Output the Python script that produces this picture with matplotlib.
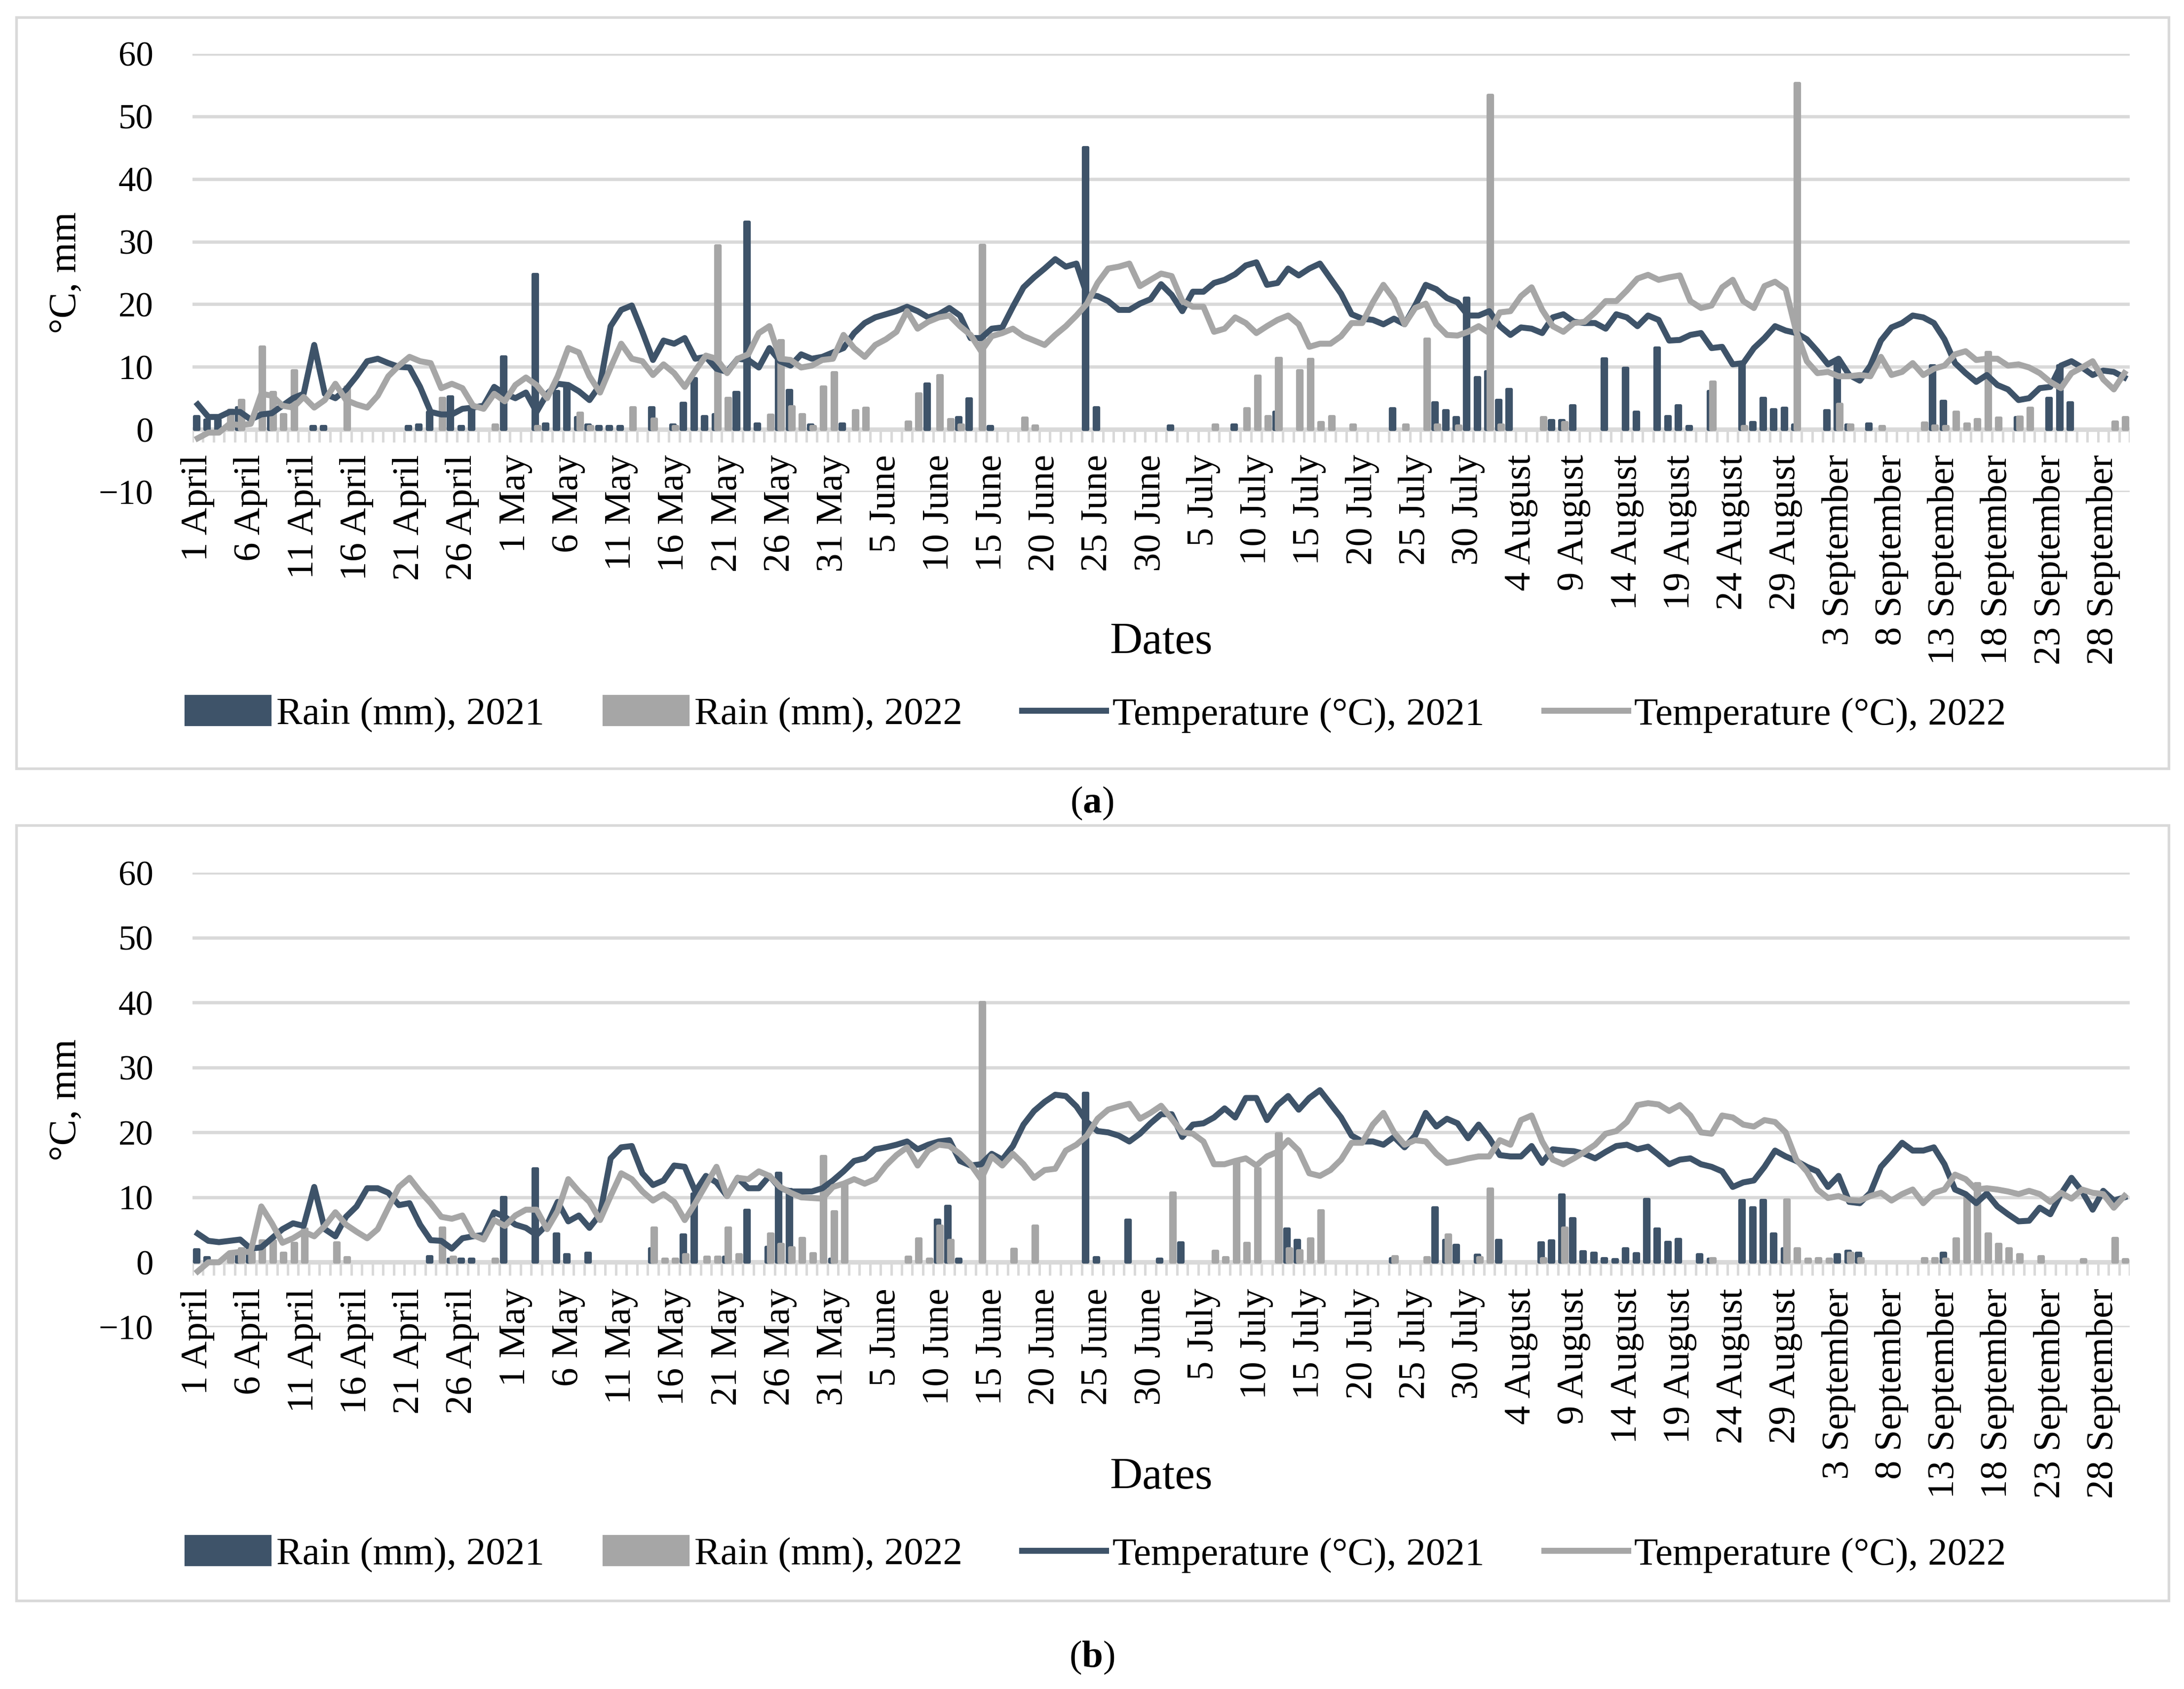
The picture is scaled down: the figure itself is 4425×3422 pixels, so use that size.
import numpy as np
import matplotlib
matplotlib.use("Agg")
import matplotlib.pyplot as plt
from matplotlib.patches import Rectangle

plt.rcParams['font.family'] = ['Liberation Serif', 'DejaVu Serif']
plt.rcParams['mathtext.fontset'] = 'custom'
plt.rcParams['mathtext.rm'] = 'Liberation Serif'
plt.rcParams['mathtext.bf'] = 'Liberation Serif:bold'

DARK = '#3E5369'
GRAY = '#A6A6A6'
GRID = '#D9D9D9'

# 1 April .. 30 September, one value per day
days = np.arange(183)

tick_labels = ["1 April", "6 April", "11 April", "16 April", "21 April", "26 April",
               "1 May", "6 May", "11 May", "16 May", "21 May", "26 May", "31 May",
               "5 June", "10 June", "15 June", "20 June", "25 June", "30 June",
               "5 July", "10 July", "15 July", "20 July", "25 July", "30 July",
               "4 August", "9 August", "14 August", "19 August", "24 August", "29 August",
               "3 September", "8 September", "13 September", "18 September",
               "23 September", "28 September"]

# ---- panel (a) ----
rain21_a = [2.1, 1.5, 1.5, 0, 3.5, 0, 0, 2.6, 0, 0,
            0, 0.5, 0.5, 0, 0, 0, 0, 0, 0, 0,
            0.5, 0.7, 2.8, 0, 5.2, 0.5, 3.5, 0, 0, 11.6,
            0, 0, 24.8, 0.9, 6.1, 7.1, 1.9, 0.7, 0.5, 0.5,
            0.5, 0, 0, 3.5, 0, 0.7, 4.2, 8.1, 2.1, 2.4,
            0, 5.9, 33.1, 0.9, 0, 11.3, 6.2, 0, 0.7, 0,
            0, 0.9, 0, 0, 0, 0, 0, 0, 0, 7.3,
            0, 0, 1.9, 4.9, 0, 0.5, 0, 0, 0, 0,
            0, 0, 0, 0, 45.0, 3.5, 0, 0, 0, 0,
            0, 0, 0.6, 0, 0, 0, 0, 0, 0.7, 0,
            0, 0, 2.8, 0, 0, 0, 0, 0, 0, 0,
            0, 0, 0, 3.3, 0, 0, 0, 4.3, 3.0, 1.9,
            21.0, 8.3, 9.2, 4.7, 6.4, 0, 0, 0, 1.4, 1.4,
            3.8, 0, 0, 11.3, 0, 9.8, 2.8, 0, 13.0, 2.1,
            3.8, 0.5, 0, 6.1, 0, 0, 10.6, 1.1, 5.0, 3.2,
            3.4, 0.7, 0, 0, 3.0, 10.4, 0.7, 0, 0.9, 0,
            0, 0, 0, 0, 10.2, 4.5, 0, 0, 0, 0,
            0, 0, 1.9, 0, 0, 5.0, 10.2, 4.3, 0, 0,
            0, 0, 0]

rain22_a = [0, 0, 0, 3.1, 4.7, 0, 13.2, 5.9, 2.4, 9.4,
            0, 0, 0, 0, 6.8, 0, 0, 0, 0, 0,
            0, 0, 0, 5.0, 0, 0, 0, 0, 0.7, 0,
            0, 0, 0.5, 0, 0, 0, 2.6, 0.5, 0, 0,
            0, 3.5, 0, 1.7, 0, 0.5, 0, 0, 0, 29.3,
            5.0, 0, 0, 0, 2.3, 14.2, 3.6, 2.4, 0.5, 6.8,
            9.1, 0, 3.0, 3.4, 0, 0, 0, 1.2, 5.7, 0,
            8.6, 1.6, 0.7, 0, 29.4, 0, 0, 0, 1.8, 0.6,
            0, 0, 0, 0, 0, 0, 0, 0, 0, 0,
            0, 0, 0, 0, 0, 0, 0.7, 0, 0, 3.3,
            8.5, 2.1, 11.4, 0, 9.4, 11.2, 1.1, 2.1, 0, 0.7,
            0, 0, 0, 0, 0.7, 0, 14.4, 0.7, 0, 0.6,
            0, 0, 53.4, 0.7, 0, 0, 0, 1.9, 0, 1.1,
            0, 0, 0, 0, 0, 0, 0, 0, 0, 0,
            0, 0, 0, 7.6, 0, 0, 0.5, 0, 0, 0,
            0, 55.3, 0, 0, 0, 4.0, 0.7, 0, 0, 0.5,
            0, 0, 0, 1.0, 0.6, 0.5, 2.8, 0.9, 1.6, 12.3,
            1.8, 0, 2.0, 3.4, 0, 0, 0, 0, 0, 0,
            0, 1.2, 1.9]

temp21_a = [4.0, 2.0, 2.0, 2.8, 2.8, 1.6, 2.4, 2.6, 3.8, 5.0,
            5.7, 13.5, 5.7, 5.0, 6.4, 8.5, 10.9, 11.3, 10.6, 10.0,
            9.9, 6.8, 2.8, 2.4, 2.4, 3.3, 3.5, 3.8, 6.8, 5.7,
            5.0, 5.9, 2.8, 5.7, 7.3, 7.1, 6.1, 4.7, 7.1, 16.5,
            19.1, 19.8, 15.6, 11.1, 14.2, 13.7, 14.6, 11.3, 11.6, 9.7,
            9.2, 11.3, 11.1, 9.9, 13.0, 10.9, 10.2, 12.0, 11.3, 11.6,
            12.3, 13.0, 15.4, 17.0, 17.9, 18.4, 18.9, 19.6, 18.9, 17.9,
            18.4, 19.4, 18.2, 14.6, 14.6, 16.1, 16.3, 19.6, 22.7, 24.3,
            25.7, 27.2, 26.0, 26.5, 21.5, 21.3, 20.5, 19.1, 19.1, 20.1,
            20.8, 23.2, 21.5, 18.9, 22.0, 22.0, 23.4, 23.9, 24.8, 26.2,
            26.7, 23.1, 23.4, 25.7, 24.6, 25.7, 26.5, 24.1, 21.7, 18.4,
            17.7, 17.5, 16.8, 17.7, 16.8, 19.8, 23.1, 22.4, 21.0, 20.3,
            18.2, 18.2, 18.9, 16.5, 15.1, 16.3, 16.1, 15.4, 17.9, 18.4,
            17.2, 17.0, 17.0, 16.1, 18.4, 17.9, 16.5, 18.2, 17.5, 14.2,
            14.3, 15.1, 15.4, 13.0, 13.2, 10.4, 10.6, 13.0, 14.6, 16.5,
            15.8, 15.4, 14.4, 12.5, 10.4, 11.3, 8.7, 7.8, 10.2, 14.2,
            16.3, 17.0, 18.2, 17.9, 17.0, 14.4, 10.6, 9.0, 7.6, 8.7,
            7.1, 6.4, 4.7, 5.0, 6.6, 6.8, 10.2, 10.9, 9.9, 8.7,
            9.4, 9.2, 8.3]

temp22_a = [-1.4, -0.5, -0.5, 0.9, 0.7, 0.9, 5.7, 5.4, 3.8, 3.5,
            5.2, 3.5, 4.7, 7.3, 4.7, 4.0, 3.5, 5.4, 8.5, 10.2,
            11.6, 10.9, 10.6, 6.6, 7.3, 6.6, 3.8, 3.3, 5.7, 4.5,
            7.1, 8.3, 7.1, 5.0, 8.5, 13.0, 12.3, 8.5, 5.9, 9.9,
            13.7, 11.3, 10.9, 8.7, 10.4, 9.0, 6.8, 9.4, 11.8, 11.3,
            9.0, 11.3, 12.0, 15.4, 16.5, 11.3, 11.1, 9.9, 10.2, 11.1,
            11.3, 15.1, 13.0, 11.6, 13.5, 14.4, 15.6, 18.9, 16.1, 17.2,
            17.9, 18.2, 16.5, 15.1, 12.5, 14.9, 15.4, 16.1, 14.9, 14.2,
            13.5, 15.1, 16.5, 18.2, 20.1, 23.4, 25.7, 26.0, 26.5, 22.9,
            23.9, 24.9, 24.5, 20.5, 19.6, 19.6, 15.6, 16.1, 17.9, 17.0,
            15.4, 16.5, 17.5, 18.2, 16.8, 13.2, 13.7, 13.7, 14.9, 17.0,
            17.0, 20.3, 23.1, 20.8, 16.8, 19.4, 20.1, 16.8, 15.1, 15.0,
            15.6, 16.5, 15.4, 18.7, 18.9, 21.3, 22.7, 19.1, 16.5, 15.6,
            17.0, 17.2, 18.7, 20.5, 20.5, 22.2, 24.1, 24.7, 23.9, 24.3,
            24.6, 20.5, 19.4, 19.8, 22.7, 23.9, 20.5, 19.4, 22.9, 23.6,
            22.4, 15.6, 10.9, 9.0, 9.2, 8.5, 8.5, 8.7, 8.5, 11.6,
            8.7, 9.2, 10.6, 8.7, 9.7, 10.2, 12.0, 12.5, 11.1, 11.3,
            11.3, 10.2, 10.4, 9.9, 9.0, 7.6, 6.6, 9.0, 9.9, 10.9,
            8.0, 6.4, 9.0]

# ---- panel (b) ----
rain21_b = [1.9, 0.7, 0, 0, 1.5, 2.0, 0, 0, 0, 0,
            0, 0, 0, 0, 0, 0, 0, 0, 0, 0,
            0, 0, 0.9, 0, 0.5, 0.5, 0.5, 0, 0, 10.0,
            0, 0, 14.4, 0, 4.4, 1.2, 0, 1.4, 0, 0,
            0, 0, 0, 2.1, 0, 0, 4.2, 10.5, 0, 0,
            0.8, 0, 8.0, 0, 2.3, 13.7, 11.2, 0, 0, 0,
            0.5, 0, 0, 0, 0, 0, 0, 0, 0, 0,
            6.5, 8.6, 0.5, 0, 0, 0, 0, 0, 0, 0,
            0, 0, 0, 0, 26.0, 0.7, 0, 0, 6.5, 0,
            0, 0.5, 0, 3.0, 0, 0, 0, 0, 0, 0,
            0, 0, 0, 5.1, 3.4, 0, 0, 0, 0, 0,
            0, 0, 0, 0.6, 0, 0, 0, 8.4, 3.4, 2.6,
            0, 1.1, 0, 3.4, 0, 0, 0, 3.0, 3.3, 10.4,
            6.7, 1.6, 1.4, 0.6, 0.4, 2.1, 1.3, 9.7, 5.1, 3.1,
            3.5, 0, 1.2, 0.5, 0, 0, 9.5, 8.4, 9.5, 4.4,
            2.1, 0, 0, 0, 0, 1.2, 1.7, 1.4, 0, 0,
            0, 0, 0, 0, 0, 1.4, 0, 0, 0, 0,
            0, 0, 0, 0, 0, 0, 0, 0, 0, 0,
            0, 0, 0]

rain22_b = [0, 0, 0, 1.4, 2.1, 1.5, 3.3, 3.3, 1.4, 2.9,
            5.1, 0, 0, 3.0, 0.7, 0, 0, 0, 0, 0,
            0, 0, 0, 5.3, 0.8, 0, 0, 0, 0.5, 0,
            0, 0, 0, 0, 0, 0, 0, 0, 0, 0,
            0, 0, 0, 5.3, 0.5, 0.5, 1.2, 0, 0.8, 0.8,
            5.3, 1.2, 0, 0, 4.4, 2.8, 2.2, 3.7, 1.3, 16.3,
            7.8, 12.1, 0, 0, 0, 0, 0, 0.8, 3.6, 0.5,
            5.6, 3.4, 0, 0, 40.0, 0, 0, 2.0, 0, 5.6,
            0, 0, 0, 0, 0, 0, 0, 0, 0, 0,
            0, 0, 10.7, 0, 0, 0, 1.7, 0.7, 15.8, 2.9,
            14.4, 0, 19.8, 2.1, 1.8, 3.6, 7.9, 0, 0, 0,
            0, 0, 0, 0.9, 0, 0, 0.7, 0, 4.2, 0,
            0, 0.7, 11.3, 0, 0, 0, 0, 0.6, 0, 5.3,
            0, 0, 0, 0, 0, 0, 0, 0, 0, 0,
            0, 0, 0, 0.6, 0, 0, 0, 0, 0, 0,
            9.6, 2.1, 0.5, 0.6, 0.5, 0, 1.4, 0.6, 0, 0,
            0, 0, 0, 0.6, 0.6, 0.5, 3.6, 10.0, 12.1, 4.4,
            2.8, 2.1, 1.2, 0, 0.9, 0, 0, 0, 0.4, 0,
            0, 3.7, 0.4]

temp21_b = [4.4, 3.3, 3.1, 3.3, 3.5, 2.1, 2.3, 3.7, 5.1, 6.0,
            5.6, 11.6, 5.1, 4.0, 7.0, 8.6, 11.4, 11.4, 10.7, 8.8,
            9.1, 5.8, 3.4, 3.3, 2.1, 3.7, 4.0, 4.2, 7.7, 7.0,
            5.8, 5.3, 4.2, 5.8, 9.3, 6.3, 7.2, 5.3, 7.4, 16.0,
            17.7, 17.9, 13.7, 11.9, 12.6, 14.9, 14.7, 10.9, 13.3, 12.3,
            10.2, 13.0, 11.4, 11.4, 13.3, 11.4, 10.9, 10.9, 10.9, 11.4,
            12.6, 14.0, 15.6, 16.0, 17.4, 17.7, 18.1, 18.6, 17.4, 18.1,
            18.6, 18.8, 15.6, 14.9, 15.1, 16.7, 15.8, 17.9, 21.2, 23.3,
            24.7, 25.8, 25.6, 24.0, 21.6, 20.2, 20.0, 19.5, 18.6, 19.8,
            21.4, 22.8, 22.8, 19.3, 21.2, 21.4, 22.3, 23.7, 22.3, 25.3,
            25.3, 21.9, 24.2, 25.6, 23.5, 25.3, 26.5, 24.4, 22.3, 19.5,
            18.6, 18.6, 18.1, 19.3, 17.7, 19.5, 23.0, 20.9, 22.1, 21.4,
            19.1, 21.2, 19.1, 16.5, 16.3, 16.3, 17.9, 15.3, 17.4, 17.2,
            17.1, 16.7, 16.0, 17.0, 17.9, 18.1, 17.4, 17.8, 16.5, 15.1,
            15.8, 16.0, 15.1, 14.7, 14.0, 11.6, 12.3, 12.6, 14.7, 17.2,
            16.3, 15.6, 14.7, 14.0, 11.6, 13.3, 9.3, 9.1, 10.7, 14.7,
            16.5, 18.4, 17.2, 17.2, 17.7, 15.1, 11.2, 10.5, 9.1, 10.6,
            8.6, 7.4, 6.3, 6.4, 8.4, 7.4, 10.5, 13.0, 10.9, 8.1,
            11.0, 9.5, 10.0]

temp22_b = [-1.4, 0.0, 0.0, 1.4, 1.6, 1.6, 8.6, 6.0, 3.0, 3.7,
            4.7, 4.0, 5.6, 7.7, 5.8, 4.7, 3.7, 5.1, 8.4, 11.6,
            13.0, 10.9, 9.1, 7.0, 6.7, 7.2, 4.2, 3.5, 6.5, 5.6,
            7.2, 8.1, 8.1, 5.1, 7.9, 12.8, 10.9, 9.3, 6.5, 10.2,
            13.7, 12.8, 10.9, 9.5, 10.5, 9.3, 6.5, 9.1, 11.9, 14.7,
            10.2, 13.0, 12.8, 14.0, 13.3, 11.6, 10.7, 10.0, 9.9, 9.8,
            11.6, 12.1, 12.8, 12.1, 12.8, 14.9, 16.5, 17.7, 14.9, 17.2,
            18.1, 17.9, 16.7, 15.1, 12.8, 16.3, 14.9, 16.7, 15.1, 13.0,
            14.2, 14.4, 17.2, 18.1, 19.5, 22.1, 23.5, 24.0, 24.4, 22.1,
            23.0, 24.1, 22.1, 20.0, 19.8, 18.6, 15.1, 15.1, 15.6, 16.0,
            14.9, 16.3, 17.0, 18.8, 17.2, 13.7, 13.3, 14.2, 15.8, 18.4,
            18.4, 21.2, 23.0, 20.0, 18.1, 18.8, 18.6, 16.7, 15.3, 15.6,
            16.0, 16.3, 16.3, 18.8, 18.1, 21.9, 22.6, 18.6, 15.8, 15.1,
            16.0, 17.0, 18.1, 19.8, 20.2, 21.6, 24.2, 24.5, 24.3, 23.3,
            24.2, 22.6, 20.0, 19.8, 22.6, 22.3, 21.2, 20.9, 21.9, 21.6,
            20.0, 15.8, 14.0, 11.2, 9.9, 10.2, 9.6, 9.5, 10.2, 10.7,
            9.5, 10.5, 11.2, 9.1, 10.7, 11.2, 13.5, 12.8, 11.2, 11.4,
            11.2, 10.9, 10.5, 11.0, 10.5, 9.3, 10.7, 9.8, 11.2, 10.7,
            10.5, 8.4, 10.2]

W, H = 4425, 3422
fig = plt.figure(figsize=(W / 300, H / 300), dpi=300)
fig.patch.set_facecolor('white')

PLOT_L, PLOT_R = 390, 4315


def draw_panel(top, bottom, frame_top, frame_bottom, legend_y, dates_y, tag_y, tag,
               r21, r22, t21, t22):
    # light grey frame round the panel
    fig.patches.append(Rectangle((33 / W, 1 - frame_bottom / H), (4394 - 33) / W,
                                 (frame_bottom - frame_top) / H, transform=fig.transFigure,
                                 fill=False, edgecolor=GRID, linewidth=1.3))

    ax = fig.add_axes([PLOT_L / W, 1 - bottom / H, (PLOT_R - PLOT_L) / W, (bottom - top) / H])
    ax.set_xlim(-0.5, 182.5)
    ax.set_ylim(-10, 60)
    for s in ax.spines.values():
        s.set_visible(False)
    ax.set_yticks(range(-10, 61, 10))
    ax.tick_params(axis='y', length=0, pad=19, labelsize=17)
    ax.set_xticks([])
    ax.yaxis.grid(True, color=GRID, linewidth=1.6)
    ax.set_axisbelow(True)

    # category axis at zero with tick marks between days
    ax.axhline(0, color=GRID, linewidth=2.2, zorder=1.5)
    ax.vlines(np.arange(-0.5, 183, 1), -2.0, 0, color=GRID, linewidth=1.2, zorder=1.5)

    r21 = np.asarray(r21)
    r22 = np.asarray(r22)
    i21 = np.flatnonzero(r21)
    i22 = np.flatnonzero(r22)
    b21 = ax.bar(days[i21] - 0.12, r21[i21], width=0.42, color=DARK, edgecolor=DARK,
                 linewidth=1.5, joinstyle='round', zorder=2)
    b22 = ax.bar(days[i22] + 0.12, r22[i22], width=0.42, color=GRAY, edgecolor=GRAY,
                 linewidth=1.5, joinstyle='round', zorder=2.1)
    l21, = ax.plot(days, t21, color=DARK, linewidth=2.9, solid_joinstyle='round', zorder=3)
    l22, = ax.plot(days, t22, color=GRAY, linewidth=2.9, solid_joinstyle='round', zorder=4)

    for d, lab in zip(range(0, 183, 5), tick_labels):
        ax.text(d, -4.0, lab, rotation=90, ha='center', va='top', fontsize=18.5,
                clip_on=False)

    yc = 1 - (top + bottom) / 2 / H
    fig.text(134 / W, yc, '°C, mm', rotation=90, ha='center', va='center', fontsize=19)
    fig.text((PLOT_L + PLOT_R) / 2 / W, 1 - dates_y / H, 'Dates', ha='center',
             va='center', fontsize=22)

    fig.legend([b21, b22, l21, l22],
               ['Rain (mm), 2021', 'Rain (mm), 2022',
                'Temperature (°C), 2021', 'Temperature (°C), 2022'],
               loc='center', bbox_to_anchor=(2221 / W, 1 - legend_y / H), ncol=4,
               frameon=False, fontsize=19, handlelength=2.15, handleheight=0.73,
               handletextpad=0.16, columnspacing=1.53, borderpad=0, borderaxespad=0)

    fig.text(0.5, 1 - tag_y / H, '(' + r'$\mathbf{' + tag + '}$' + ')', ha='center',
             va='center', fontsize=18.5)


draw_panel(109, 997, 35, 1557, 1448, 1302, 1627, 'a',
           rain21_a, rain22_a, temp21_a, temp22_a)
draw_panel(1768, 2689, 1672, 3243, 3150, 2994, 3358, 'b',
           rain21_b, rain22_b, temp21_b, temp22_b)

fig.savefig('out.png', dpi=300, facecolor='white')
